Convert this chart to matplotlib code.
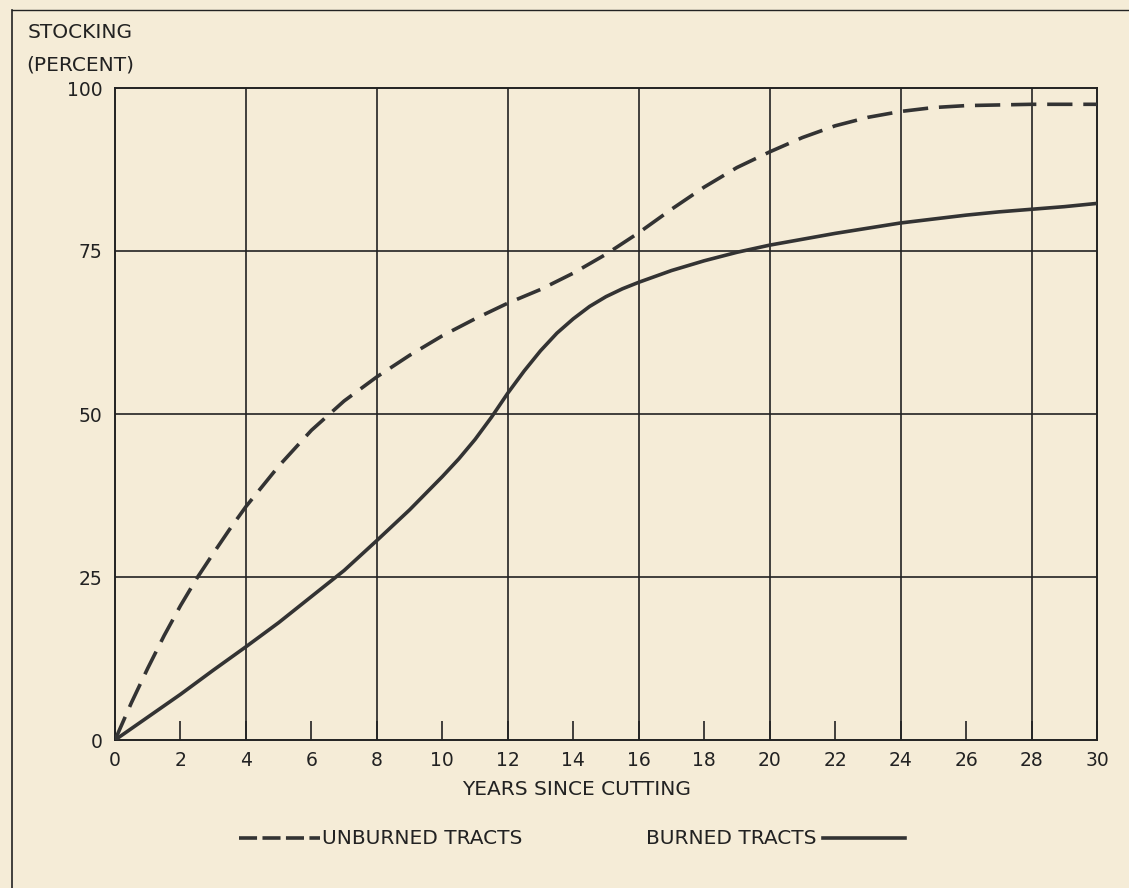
import matplotlib.pyplot as plt
from matplotlib.lines import Line2D

# data -------------------------------------------------------------- #
unburned_years = [0, 0.5, 1, 1.5, 2, 2.5, 3, 3.5, 4, 5, 6, 7, 8, 9, 10, 11,
                  12, 13, 14, 15, 16, 17, 18, 19, 20, 21, 22, 23, 24, 25, 26,
                  27, 28, 29, 30]
unburned = [0, 5.7, 11, 16, 20.6, 24.8, 28.6, 32.3, 35.8, 42, 47.5, 52, 55.7,
            59, 62, 64.6, 67, 69.1, 71.6, 74.5, 77.8, 81.4, 84.8, 87.8, 90.2,
            92.4, 94.2, 95.5, 96.4, 97, 97.3, 97.4, 97.5, 97.5, 97.5]
burned_years = [0, 1, 2, 3, 4, 5, 6, 7, 8, 9, 10, 10.5, 11, 11.5, 12, 12.5,
                13, 13.5, 14, 14.5, 15, 15.5, 16, 17, 18, 19, 20, 21, 22, 23,
                24, 25, 26, 27, 28, 29, 30]
burned = [0, 3.5, 7, 10.7, 14.3, 18, 22, 26, 30.6, 35.3, 40.4, 43.1, 46.1,
          49.5, 53.2, 56.6, 59.7, 62.4, 64.6, 66.5, 68, 69.2, 70.2, 72, 73.5,
          74.8, 75.9, 76.8, 77.7, 78.5, 79.3, 79.9, 80.5, 81, 81.4, 81.8, 82.3]
x_ticks = list(range(0, 31, 2))
y_ticks = [0, 25, 50, 75, 100]

bg = "#f5ecd7"
ink = "#222222"
curve = "#333333"
W, H = 1129, 888

plt.rcParams['font.family'] = 'DejaVu Sans'

fig = plt.figure(figsize=(W / 100, H / 100), dpi=100, facecolor=bg)
ax = fig.add_axes([115 / W, 1 - 740 / H, (1097 - 115) / W, (740 - 88) / H])
ax.set_facecolor(bg)

# grid ------------------------------------------------------------- #
for gx in range(4, 30, 4):
    ax.axvline(gx, color=ink, lw=1.2, zorder=1)
for gy in [25, 50, 75]:
    ax.axhline(gy, color=ink, lw=1.2, zorder=1)

ax.plot(unburned_years, unburned, color=curve, lw=2.6, dashes=(7, 3),
        solid_joinstyle='round', zorder=3)
ax.plot(burned_years, burned, color=curve, lw=2.6, solid_joinstyle='round',
        zorder=3)

ax.set_xlim(0, 30)
ax.set_ylim(0, 100)
for s in ax.spines.values():
    s.set_color(ink)
    s.set_linewidth(1.4)

ax.set_xticks(x_ticks)
ax.set_yticks(y_ticks)
ax.tick_params(axis='x', direction='in', length=14, width=1.2, color=ink,
               pad=8, labelsize=13.5, labelcolor=ink)
ax.tick_params(axis='y', length=0, pad=9, labelsize=13.5, labelcolor=ink)

# texts ------------------------------------------------------------ #
fs = 14.5
fig.text(28 / W, 1 - 33 / H, "STOCKING", fontsize=fs, color=ink, va='center')
fig.text(26 / W, 1 - 65 / H, "(PERCENT)", fontsize=fs, color=ink, va='center')
fig.text(577 / W, 1 - 789 / H, "YEARS SINCE CUTTING", fontsize=fs, color=ink,
         ha='center', va='center')

ly = 1 - 838 / H
fig.add_artist(Line2D([239 / W, 320 / W], [ly, ly], color=curve, lw=2.6,
                      dashes=(5, 1.5)))
fig.text(322 / W, ly, "UNBURNED TRACTS", fontsize=fs, color=ink, va='center')
fig.text(817 / W, ly, "BURNED TRACTS", fontsize=fs, color=ink, va='center',
         ha='right')
fig.add_artist(Line2D([823 / W, 905 / W], [ly, ly], color=curve, lw=2.6))

# page border
fig.add_artist(Line2D([12 / W, 12 / W], [0, 1 - 10 / H], color=ink, lw=1.2))
fig.add_artist(Line2D([12 / W, 1], [1 - 10 / H, 1 - 10 / H], color=ink, lw=1.0))

fig.savefig("out.png", dpi=100, facecolor=bg)
